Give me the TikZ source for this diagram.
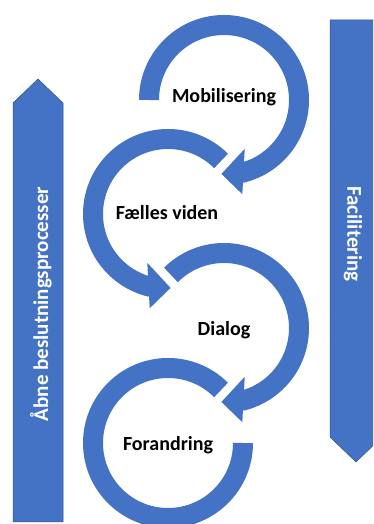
\documentclass[tikz,border=0pt]{standalone}
\usepackage{fontspec}
\setmainfont{Carlito}
\usetikzlibrary{calc}
\definecolor{ringblue}{HTML}{4472C4}
\definecolor{edgeblue}{HTML}{2F528F}
\begin{document}
\begin{tikzpicture}[x=1pt,y=1pt]
\tikzset{
  ring/.style={draw=ringblue,line width=20pt},
  headtip/.style={fill=ringblue},
  bigarrow/.style={fill=ringblue,draw=edgeblue,line width=0.5pt},
  label/.style={font=\bfseries\fontsize{20}{24}\selectfont,text=black,inner sep=0pt},
  sidelabel/.style={font=\bfseries\fontsize{21}{25}\selectfont,text=white,inner sep=0pt}
}
\useasboundingbox (0,0) rectangle (373,524);
\clip (0,0) rectangle (373,524);
% centres
\coordinate (cM) at (224,424);
\coordinate (cF) at (168,310);
\coordinate (cD) at (224,196);
\coordinate (cR) at (168,81);
% side arrows
\draw[bigarrow] (13,2) -- (13,421) -- (38,445) -- (63,421) -- (63,2) -- cycle;
\draw[bigarrow] (330,504) -- (382,504) -- (382,87) -- (356,62) -- (330,87) -- cycle;
% Mobilisering ring
\draw[ring] ($(cM)+(180:75)$) arc[start angle=180,end angle=-77,radius=75];
\fill[headtip] ($(cM)+(-67:53)$) -- ($(cM)+(-92:74)$) -- ($(cM)+(-79:96)$) -- cycle;
% Faelles ring
\draw[ring] ($(cF)+(45:75)$) arc[start angle=45,end angle=257,radius=75];
\fill[headtip] ($(cF)+(247:53)$) -- ($(cF)+(272:74)$) -- ($(cF)+(259:96)$) -- cycle;
% Dialog ring
\draw[ring] ($(cD)+(135:75)$) arc[start angle=135,end angle=-77,radius=75];
\fill[headtip] ($(cD)+(-67:53)$) -- ($(cD)+(-92:74)$) -- ($(cD)+(-79:96)$) -- cycle;
% Forandring ring
\draw[ring] ($(cR)+(0:75)$) arc[start angle=0,end angle=-315,radius=75];
% labels
\node[label] (mob) at (224,427) {Mobilisering};
\node[label] (fael) at (167,311) {Fælles viden};
\node[label] (dia) at (224,194) {Dialog};
\node[label] (for) at (168,79) {Forandring};
\node[sidelabel,rotate=90] (aab) at (41,220) {Åbne beslutningsprocesser};
\node[sidelabel,rotate=-90] (fac) at (353,290) {Facilitering};
\end{tikzpicture}
\end{document}
